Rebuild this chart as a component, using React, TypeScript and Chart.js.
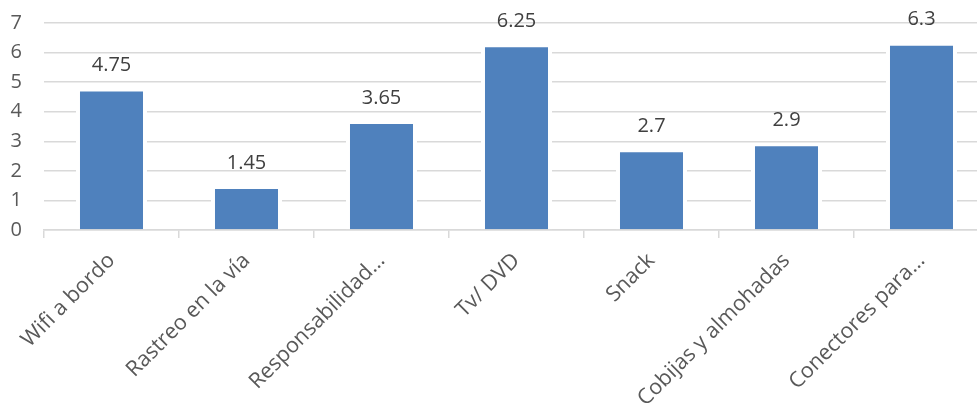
import React, { useEffect, useRef } from "react";
import { Chart, registerables } from "chart.js";

Chart.register(...registerables);

const categories = [
  "Wifi a bordo",
  "Rastreo en la vía",
  "Responsabilidad…",
  "Tv/ DVD",
  "Snack",
  "Cobijas y almohadas",
  "Conectores para…",
];
const values = [4.75, 1.45, 3.65, 6.25, 2.7, 2.9, 6.3];
const yMin = 0;
const yMax = 7;
const yStep = 1;

const FONT = "'Open Sans', sans-serif";
const TEXT = "#595959";
const GRID = "#d9d9d9";

const dataLabels = {
  id: "dataLabels",
  afterDatasetsDraw(chart: any) {
    const ctx = chart.ctx;
    const meta = chart.getDatasetMeta(0);
    ctx.save();
    ctx.font = `20px ${FONT}`;
    ctx.fillStyle = "#404040";
    ctx.textAlign = "center";
    ctx.textBaseline = "middle";
    meta.data.forEach((el: any, i: number) => {
      ctx.fillText(String(values[i]), el.x, el.y - 24);
    });
    ctx.restore();
  },
};

export default function App() {
  const ref = useRef<HTMLCanvasElement | null>(null);
  useEffect(() => {
    document.body.style.margin = "0";
    const chart = new Chart(ref.current as HTMLCanvasElement, {
      type: "bar",
      data: {
        labels: categories,
        datasets: [
          {
            data: values,
            backgroundColor: "#4F81BD",
            borderColor: "#ffffff",
            borderWidth: { top: 2, left: 4, right: 4, bottom: 0 } as any,
            borderSkipped: "start",
            barPercentage: 0.526,
            categoryPercentage: 1,
          },
        ],
      },
      options: {
        responsive: false,
        animation: false,
        layout: { padding: { top: 23, right: 11, left: 0, bottom: 0 } },
        plugins: {
          legend: { display: false },
          tooltip: { enabled: false },
          title: { display: false },
        },
        scales: {
          x: {
            afterFit: (s: any) => {
              s.height = 173;
            },
            grid: {
              display: true,
              drawOnChartArea: false,
              drawTicks: true,
              tickLength: 8,
              color: GRID,
              lineWidth: 1.5,
              offset: true,
            },
            border: { display: true, color: GRID, width: 1.5 },
            ticks: {
              minRotation: 45,
              maxRotation: 45,
              autoSkip: false,
              padding: 10,
              color: TEXT,
              font: { family: FONT, size: 21.5 },
            },
          },
          y: {
            min: yMin,
            max: yMax,
            afterFit: (s: any) => {
              s.width = 44;
            },
            grid: {
              color: GRID,
              lineWidth: 1.5,
              drawTicks: true,
              tickLength: 22,
              tickColor: "rgba(0,0,0,0)",
            },
            border: { display: false },
            ticks: {
              stepSize: yStep,
              padding: 0,
              color: TEXT,
              font: { family: FONT, size: 20 },
            },
          },
        },
      },
      plugins: [dataLabels],
    });
    return () => chart.destroy();
  }, []);
  return (
    <div
      style={{
        position: "fixed",
        left: 0,
        top: 0,
        width: 977,
        height: 403,
        overflow: "hidden",
        background: "#fff",
      }}
    >
      <canvas ref={ref} width={1000} height={403} style={{ display: "block" }} />
    </div>
  );
}
